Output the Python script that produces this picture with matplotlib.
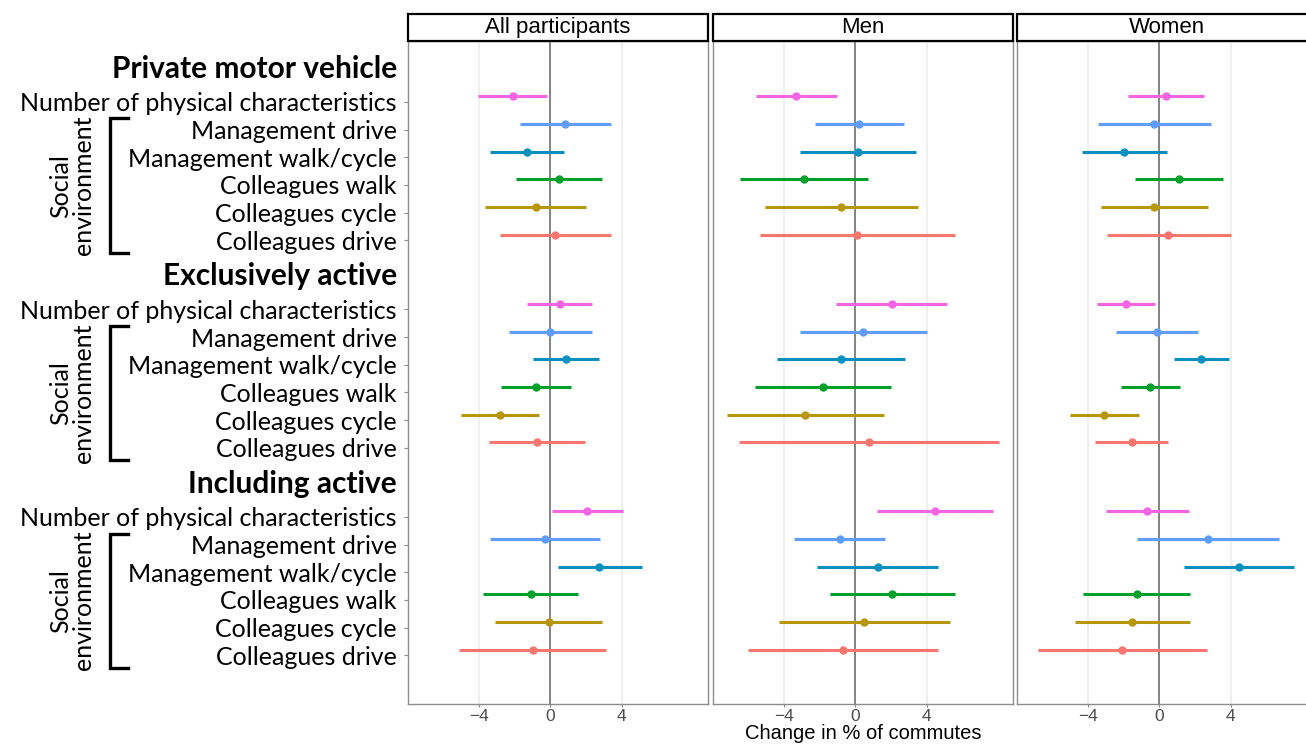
import matplotlib
matplotlib.use("Agg")
import matplotlib.pyplot as plt
from matplotlib.transforms import blended_transform_factory
from matplotlib.patches import Rectangle

# ── Data ───────────────────────────────────────────────────────────────────────
panels = ["All participants", "Men", "Women"]
groups = ["Private motor vehicle", "Exclusively active", "Including active"]
rows = ["Number of physical characteristics", "Management drive",
        "Management walk/cycle", "Colleagues walk", "Colleagues cycle",
        "Colleagues drive"]
row_colors = ["#F564E3", "#619CFF", "#0A90C0", "#00A02A", "#B8960A", "#F8766D"]

# 18 values per panel: 6 rows x 3 groups (PMV, exclusively active, including active)
all_est = [-2.10, 0.84, -1.30, 0.47, -0.82, 0.26,
           0.52, -0.02, 0.86, -0.80, -2.81, -0.76,
           2.08, -0.32, 2.75, -1.10, -0.09, -0.99]
all_lo = [-4.04, -1.67, -3.35, -1.90, -3.63, -2.83,
          -1.28, -2.33, -0.97, -2.75, -4.99, -3.44,
          0.09, -3.40, 0.45, -3.76, -3.09, -5.13]
all_hi = [-0.19, 3.39, 0.78, 2.87, 1.99, 3.40,
          2.33, 2.31, 2.70, 1.15, -0.65, 1.93,
          4.07, 2.77, 5.12, 1.54, 2.90, 3.13]

men_est = [-3.29, 0.20, 0.13, -2.87, -0.78, 0.11,
           2.05, 0.45, -0.82, -1.82, -2.79, 0.76,
           4.43, -0.87, 1.25, 2.08, 0.50, -0.71]
men_lo = [-5.54, -2.27, -3.11, -6.47, -5.06, -5.34,
          -1.06, -3.07, -4.39, -5.62, -7.20, -6.51,
          1.19, -3.44, -2.14, -1.40, -4.26, -5.99]
men_hi = [-1.02, 2.70, 3.39, 0.73, 3.50, 5.58,
          5.13, 4.00, 2.77, 1.97, 1.62, 8.06,
          7.68, 1.67, 4.65, 5.58, 5.28, 4.60]

women_est = [0.36, -0.28, -1.97, 1.10, -0.28, 0.51,
             -1.89, -0.11, 2.32, -0.51, -3.09, -1.55,
             -0.67, 2.72, 4.44, -1.27, -1.50, -2.06]
women_lo = [-1.74, -3.41, -4.34, -1.37, -3.26, -2.94,
            -3.50, -2.43, 0.81, -2.17, -5.02, -3.61,
            -3.00, -1.25, 1.39, -4.27, -4.74, -6.80]
women_hi = [2.49, 2.87, 0.43, 3.58, 2.75, 3.99,
            -0.26, 2.17, 3.88, 1.16, -1.16, 0.51,
            1.67, 6.69, 7.53, 1.72, 1.72, 2.68]

x_ticks = [-4, 0, 4]
x_label = "Change in % of commutes"

panel_data = [(all_est, all_lo, all_hi),
              (men_est, men_lo, men_hi),
              (women_est, women_lo, women_hi)]

# ── Layout (y in "row" units, header row then 6 rows; 1.5 gap between groups) ──
header_y = [0, 7.5, 15]
row_y = []
for h in header_y:
    row_y += [h + 1 + i for i in range(6)]

W, H = 1306, 744
fig = plt.figure(figsize=(W / 100, H / 100), dpi=100)
LABEL_FONT = ["Lato", "DejaVu Sans"]

panel_left = [408, 713, 1017]
pw = 300
ax_bottom, ax_top = 704, 41
axes = []
for k, (name, (est, lo, hi)) in enumerate(zip(panels, panel_data)):
    ax = fig.add_axes([panel_left[k] / W, 1 - ax_bottom / H, pw / W,
                       (ax_bottom - ax_top) / H])
    axes.append(ax)
    for xt in x_ticks:
        if xt != 0:
            ax.axvline(xt, color="#ebebeb", lw=1.1, zorder=0)
    ax.axvline(0, color="#7a7a7a", lw=1.3, zorder=1)
    for i in range(len(est)):
        c = row_colors[i % 6]
        ax.plot([lo[i], hi[i]], [row_y[i], row_y[i]], color=c, lw=2.2,
                solid_capstyle="butt", zorder=2)
        ax.plot(est[i], row_y[i], "o", color=c, ms=5, zorder=3)
    ax.set_xlim(-7.96, 8.82)
    ax.set_ylim(22.96, -1.0)
    ax.set_xticks(x_ticks)
    ax.set_xticklabels([f"\u2212{abs(t)}" if t < 0 else str(t) for t in x_ticks],
                       fontsize=12.5, color="#4d4d4d", family="Liberation Sans")
    ax.tick_params(axis="x", length=2.5, color="#8c8c8c", pad=1)
    for s in ax.spines.values():
        s.set_color("#8c8c8c")
        s.set_linewidth(1.0)
    if k == 0:
        # the row labels sit slightly below their bars in the original
        ax.set_yticks([y + 0.2 for y in row_y])
        ax.set_yticklabels(rows * 3, fontsize=18, family=LABEL_FONT)
        ax.tick_params(axis="y", length=3, color="#8c8c8c", pad=5)
    else:
        ax.set_yticks([])
    # strip header
    strip = Rectangle((panel_left[k] / W, 1 - ax_top / H), pw / W, 27 / H,
                      transform=fig.transFigure, facecolor="white",
                      edgecolor="black", lw=1.6, clip_on=False)
    fig.patches.append(strip)
    fig.text((panel_left[k] + pw / 2) / W, 1 - (ax_top - 13.5) / H, name,
             ha="center", va="center", fontsize=16, family="Liberation Sans")

ax0 = axes[0]
tr = blended_transform_factory(fig.transFigure, ax0.transData)
for g, h in zip(groups, header_y):
    ax0.text(397 / W, h, g, transform=tr, ha="right", va="center",
             fontsize=21.5, fontweight="bold", family=LABEL_FONT, clip_on=False)

# brackets "Social environment"
for h in header_y:
    top = h + 2 - 0.2
    bot = h + 6 + 0.65
    ax0.plot([128 / W, 110 / W, 110 / W, 128 / W], [top, top, bot, bot],
             transform=tr, color="black", lw=2.4, clip_on=False,
             solid_joinstyle="miter")
    mid = (top + bot) / 2
    ax0.text(72 / W, mid, "Social\nenvironment", transform=tr, rotation=90,
             ha="center", va="center", fontsize=18, family=LABEL_FONT,
             linespacing=1.0, clip_on=False)

fig.text((713 + pw / 2) / W, 1 - 743 / H, x_label, ha="center", va="bottom",
         fontsize=14.5, family="Liberation Sans")

fig.savefig("out.png", dpi=100)
